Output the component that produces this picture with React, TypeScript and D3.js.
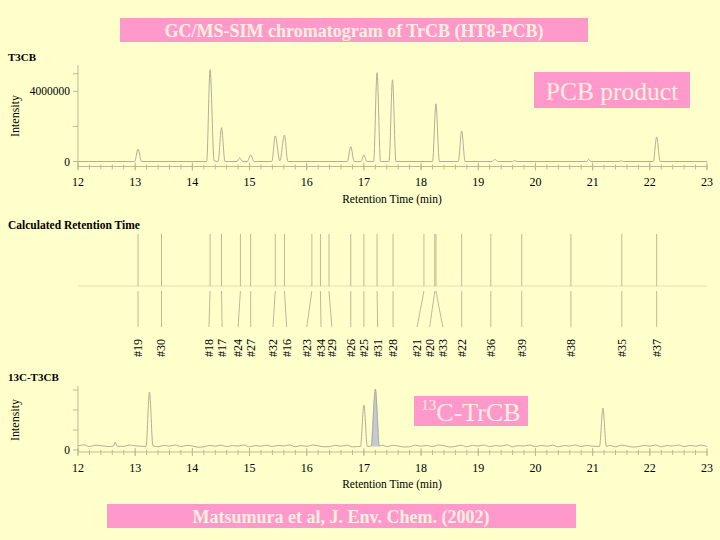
import React from 'react'
import * as d3 from 'd3'

// T3CB trace (time in min, intensity in millions)
const t3cbTrace: [number, number][] = [
  [12, 0], [12.99, 0], [13.05, 0.71], [13.11, 0],
  [14.25, 0], [14.31, 5.23], [14.38, 0.05], [14.45, 0], [14.51, 1.93], [14.57, 0],
  [14.78, 0], [14.83, 0.2], [14.88, 0], [14.96, 0], [15.02, 0.37], [15.08, 0],
  [15.39, 0], [15.45, 1.46], [15.53, 0.03], [15.61, 1.5], [15.67, 0],
  [16.71, 0], [16.77, 0.85], [16.83, 0], [16.95, 0], [17.0, 0.37], [17.05, 0],
  [17.17, 0], [17.23, 5.06], [17.29, 0], [17.44, 0], [17.5, 4.66], [17.56, 0],
  [18.2, 0], [18.26, 3.29], [18.32, 0], [18.65, 0], [18.71, 1.74], [18.77, 0],
  [19.24, 0], [19.29, 0.12], [19.34, 0], [19.6, 0], [19.64, 0.05], [19.68, 0],
  [20.89, 0], [20.93, 0.12], [20.97, 0], [21.46, 0], [21.5, 0.04], [21.54, 0],
  [22.06, 0], [22.12, 1.4], [22.18, 0], [23, 0]
]

// 13C-T3CB trace (relative units)
const c13Trace: [number, number][] = [
  [12.0, 0.2], [12.1, 0.26], [12.2, 0.17], [12.3, 0.24], [12.4, 0.22], [12.55, 0.17], [12.62, 0.2], [12.65, 0.4], [12.68, 0.2],
  [12.8, 0.18], [12.9, 0.25], [13.0, 0.21], [13.19, 0.18], [13.25, 2.9], [13.31, 0.22], [13.4, 0.16],
  [13.5, 0.23], [13.6, 0.19], [13.7, 0.25], [13.8, 0.17], [13.9, 0.23], [14.0, 0.2], [14.1, 0.14], [14.2, 0.16],
  [14.3, 0.23], [14.4, 0.19], [14.5, 0.24], [14.6, 0.17], [14.7, 0.22], [14.8, 0.2], [14.9, 0.25],
  [15.0, 0.16], [15.1, 0.22], [15.2, 0.19], [15.3, 0.24], [15.4, 0.17], [15.5, 0.23], [15.6, 0.2],
  [15.7, 0.25], [15.8, 0.16], [15.9, 0.22], [16.0, 0.18], [16.1, 0.25], [16.2, 0.21], [16.3, 0.16],
  [16.4, 0.17], [16.5, 0.23], [16.6, 0.19], [16.7, 0.24], [16.8, 0.16], [16.94, 0.18],
  [17.0, 2.25], [17.06, 0.18], [17.13, 0.2], [17.2, 3.05], [17.27, 0.2], [17.33, 0.24], [17.4, 0.17],
  [17.5, 0.23], [17.6, 0.2], [17.7, 0.15], [17.8, 0.16], [17.9, 0.24], [18.0, 0.19], [18.1, 0.23],
  [18.2, 0.17], [18.3, 0.25], [18.4, 0.21], [18.5, 0.15], [18.6, 0.18], [18.7, 0.24], [18.8, 0.16],
  [18.9, 0.23], [19.0, 0.2], [19.1, 0.25], [19.2, 0.17], [19.3, 0.22], [19.4, 0.19], [19.5, 0.26],
  [19.6, 0.16], [19.7, 0.22], [19.8, 0.2], [19.9, 0.25], [20.0, 0.17], [20.1, 0.23], [20.2, 0.19],
  [20.3, 0.24], [20.4, 0.16], [20.5, 0.22], [20.6, 0.2], [20.7, 0.25], [20.8, 0.17], [20.9, 0.23],
  [21.0, 0.19], [21.12, 0.18], [21.18, 2.1], [21.24, 0.18], [21.3, 0.23], [21.4, 0.16], [21.5, 0.24],
  [21.6, 0.2], [21.7, 0.15], [21.8, 0.17], [21.9, 0.23], [22.0, 0.19], [22.1, 0.25], [22.2, 0.16],
  [22.3, 0.22], [22.4, 0.2], [22.5, 0.25], [22.6, 0.17], [22.7, 0.23], [22.8, 0.19], [22.9, 0.24], [23.0, 0.18]
]
// shaded internal-standard peak
const c13Shaded: [number, number][] = [[17.13, 0.2], [17.2, 3.05], [17.27, 0.2]]

// calculated retention times per congener
const congeners = ['#19', '#30', '#18', '#17', '#24', '#27', '#32', '#16', '#23', '#34', '#29', '#26',
  '#25', '#31', '#28', '#21', '#20', '#33', '#22', '#36', '#39', '#38', '#35', '#37']
const calcRT = [13.05, 13.46, 14.31, 14.51, 14.84, 15.02, 15.45, 15.61, 16.09, 16.24, 16.39, 16.77,
  17.0, 17.23, 17.51, 18.05, 18.24, 18.26, 18.71, 19.22, 19.76, 20.62, 21.51, 22.12]
const labelRT = [13.05, 13.46, 14.29, 14.52, 14.8, 15.02, 15.41, 15.65, 16.0, 16.25, 16.44, 16.77,
  17.0, 17.24, 17.51, 17.93, 18.15, 18.38, 18.71, 19.22, 19.76, 20.62, 21.51, 22.12]

const timeTicks = d3.range(12, 24)
const topYTicks = [0, 2, 4, 5]
const topYLabels = [0, 4]
const botYTicks = [0, 1, 2, 3]
const botYLabels = [0]

const BG = '#ffffcc'
const PINK = '#ff99cc'
const CREAM = '#fff0dd'
const TRACE = '#b2ae96'
const AXIS = '#bfb990'
const SERIF = "'Liberation Serif', 'Times New Roman', serif"

const x = d3.scaleLinear().domain([12, 23]).range([78, 707])

type PanelProps = {
  trace: [number, number][]
  y: d3.ScaleLinear<number, number>
  yTicks: number[]
  yLabels: number[]
  fmt: (v: number) => string
  axisY: number
  tickLabelY: number
  titleY: number
  intensityY: number
  children?: React.ReactNode
}

function Panel({ trace, y, yTicks, yLabels, fmt, axisY, tickLabelY, titleY, intensityY, children }: PanelProps) {
  const line = d3.line<[number, number]>().x(d => x(d[0])).y(d => y(d[1])).curve(d3.curveMonotoneX)
  const minor = d3.range(12, 23.001, 0.2)
  const top = y(y.domain()[1])
  return (
    <g>
      <line x1={78} x2={78} y1={top} y2={axisY} stroke={AXIS} />
      {yTicks.map(v => (
        <line key={v} x1={73} x2={78} y1={y(v)} y2={y(v)} stroke={AXIS} />
      ))}
      {yLabels.map(v => (
        <text key={v} x={70} y={y(v)} textAnchor="end" dominantBaseline="central" fontSize={11.5}>{fmt(v)}</text>
      ))}
      <text transform={`translate(15,${intensityY}) rotate(-90)`} textAnchor="middle" dominantBaseline="central" fontSize={12}>Intensity</text>
      <line x1={78} x2={707} y1={axisY} y2={axisY} stroke={AXIS} />
      {minor.map(t => (
        <line key={t} x1={x(t)} x2={x(t)} y1={axisY - 2} y2={axisY + 3} stroke={AXIS} />
      ))}
      {timeTicks.map(t => (
        <g key={t}>
          <line x1={x(t)} x2={x(t)} y1={axisY - 4} y2={axisY + 4} stroke={AXIS} />
          <text x={x(t)} y={tickLabelY} textAnchor="middle" dominantBaseline="central" fontSize={12}>{t}</text>
        </g>
      ))}
      <text x={392} y={titleY} textAnchor="middle" dominantBaseline="central" fontSize={11.5}>Retention Time (min)</text>
      {children}
      <path d={line(trace) || ''} fill="none" stroke={TRACE} strokeWidth={1} />
    </g>
  )
}

export default function App() {
  const yTop = d3.scaleLinear().domain([0, 5.5]).range([161.5, 65])
  const yBot = d3.scaleLinear().domain([0, 3.2]).range([450, 386])
  const shadedArea = d3.area<[number, number]>()
    .x(d => x(d[0])).y0(yBot(0.18)).y1(d => yBot(d[1])).curve(d3.curveMonotoneX)
  const rtTop = 234, rtMid = 286, rtLowA = 291, rtLowB = 327, rtLabel = 357

  return (
    <svg width={720} height={540} style={{ position: 'absolute', left: 0, top: 0 }}
      fontFamily={SERIF}>
      <rect width={720} height={540} fill={BG} />

      <rect x={120} y={18} width={468} height={24} fill={PINK} />
      <text x={354} y={30.5} textAnchor="middle" dominantBaseline="central" fontSize={18}
        fontWeight="bold" fill={CREAM}>GC/MS-SIM chromatogram of TrCB (HT8-PCB)</text>

      <text x={8} y={57} dominantBaseline="central" fontSize={11} fontWeight="bold">T3CB</text>
      <Panel trace={t3cbTrace} y={yTop} yTicks={topYTicks} yLabels={topYLabels}
        fmt={v => d3.format('d')(v * 1e6)} axisY={166.5} tickLabelY={182} titleY={199} intensityY={116} />

      <rect x={534} y={72} width={156} height={36} fill={PINK} />
      <text x={612} y={91} textAnchor="middle" dominantBaseline="central" fontSize={25.5} fill={CREAM}>PCB product</text>

      <text x={8} y={225} dominantBaseline="central" fontSize={11.5} fontWeight="bold">Calculated Retention Time</text>
      <line x1={78} x2={707} y1={rtMid} y2={rtMid} stroke="#e6e0ae" />
      {congeners.map((c, i) => (
        <g key={c}>
          <line x1={x(calcRT[i])} x2={x(calcRT[i])} y1={rtTop} y2={rtMid} stroke={AXIS} />
          <line x1={x(calcRT[i])} x2={x(labelRT[i])} y1={rtLowA} y2={rtLowB} stroke={AXIS} />
          <text transform={`translate(${x(labelRT[i])},${rtLabel}) rotate(-90)`}
            dominantBaseline="central" fontSize={12}>{c}</text>
        </g>
      ))}

      <text x={8} y={377} dominantBaseline="central" fontSize={11} fontWeight="bold">13C-T3CB</text>
      <Panel trace={c13Trace} y={yBot} yTicks={botYTicks} yLabels={botYLabels}
        fmt={v => String(v)} axisY={452} tickLabelY={468} titleY={484} intensityY={420}>
        <path d={shadedArea(c13Shaded) || ''} fill="#c6cad8" />
      </Panel>

      <rect x={414} y={396} width={114} height={30} fill={PINK} />
      <text x={471} y={412} textAnchor="middle" dominantBaseline="central" fontSize={26} fill={CREAM}>
        <tspan fontSize={15} dy={-7}>13</tspan><tspan dy={7}>C-TrCB</tspan>
      </text>

      <rect x={107} y={504} width={469} height={24} fill={PINK} />
      <text x={341} y={516.5} textAnchor="middle" dominantBaseline="central" fontSize={18}
        fontWeight="bold" fill={CREAM}>Matsumura et al, J. Env. Chem. (2002)</text>
    </svg>
  )
}
